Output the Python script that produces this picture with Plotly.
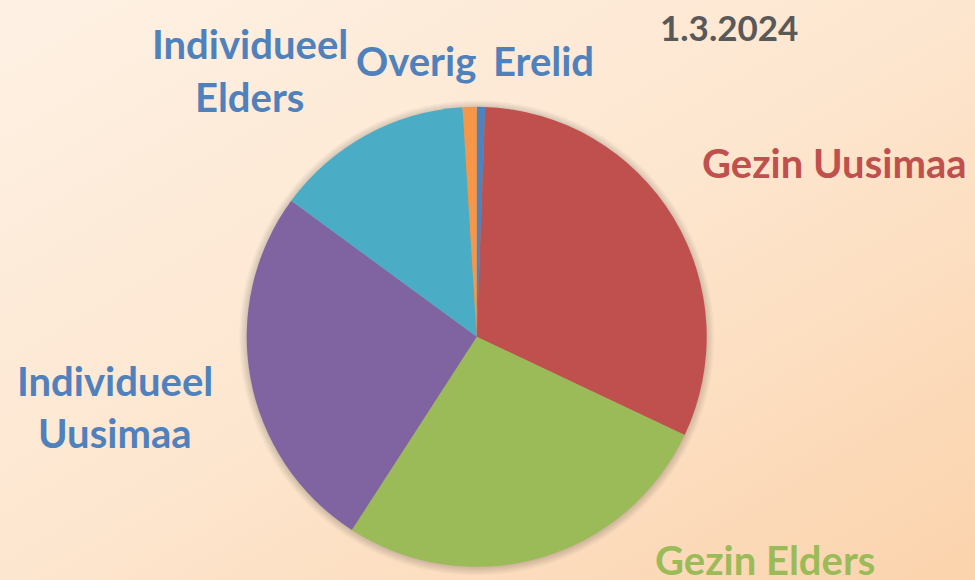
import base64
import plotly.graph_objects as go

categories = ["Erelid", "Gezin Uusimaa", "Gezin Elders", "Individueel Uusimaa", "Individueel Elders", "Overig"]
values = [3, 160, 138, 132, 71, 5]
slice_colors = ["#4F81BD", "#C0504D", "#9BBB59", "#8064A2", "#4BACC6", "#F79646"]
label_colors = ["#4F81BD", "#C0504D", "#9BBB59", "#4F81BD", "#4F81BD", "#4F81BD"]
title_text = "1.3.2024"

W, H = 975, 580
cx, cy, r = 476.7, 336.8, 230.0

svg = f'''<svg xmlns="http://www.w3.org/2000/svg" width="{W}" height="{H}">
<defs><linearGradient id="g" x1="0" y1="0" x2="1" y2="1">
<stop offset="0" stop-color="#FEF1E4"/><stop offset="0.5" stop-color="#FDE6CF"/><stop offset="1" stop-color="#FBD3AC"/>
</linearGradient>
<radialGradient id="s" cx="0.5" cy="0.5" r="0.5">
<stop offset="0.93" stop-color="#000" stop-opacity="0.35"/><stop offset="1" stop-color="#000" stop-opacity="0"/>
</radialGradient></defs>
<rect width="{W}" height="{H}" fill="url(#g)"/>
<circle cx="{cx}" cy="{cy+1}" r="{r+8}" fill="url(#s)"/>
</svg>'''
src = "data:image/svg+xml;base64," + base64.b64encode(svg.encode()).decode()

fig = go.Figure(go.Pie(
    labels=categories, values=values, sort=False, direction="clockwise", rotation=0,
    marker=dict(colors=slice_colors, line=dict(width=0)),
    textinfo="none", hoverinfo="label+value+percent", showlegend=False,
    domain=dict(x=[(cx - r) / W, (cx + r) / W], y=[(H - cy - r) / H, (H - cy + r) / H]),
))

fig.add_layout_image(dict(source=src, xref="paper", yref="paper", x=0, y=1, sizex=1, sizey=1,
                          xanchor="left", yanchor="top", sizing="stretch", layer="below"))

font_family = "Lato, 'Open Sans', sans-serif"
fs = 40

# label line placements (pixel centres of cap text)
placements = {
    "Erelid": [(543, 61)],
    "Gezin Uusimaa": [(834, 163)],
    "Gezin Elders": [(765, 560)],
    "Individueel Uusimaa": [(115, 381), (115, 433)],
    "Individueel Elders": [(250, 44), (250, 97)],
    "Overig": [(416, 61)],
}

for cat, col in zip(categories, label_colors):
    words = cat.split(" ")
    lines = [cat] if len(placements[cat]) == 1 else words
    for line, (px, py) in zip(lines, placements[cat]):
        fig.add_annotation(text=line, x=px / W, y=1 - py / H, xref="paper", yref="paper",
                           xanchor="center", yanchor="middle", showarrow=False,
                           font=dict(family=font_family, size=fs, color=col, weight="bold"))

fig.add_annotation(text=title_text, x=728.7 / W, y=1 - 27 / H, xref="paper", yref="paper",
                   xanchor="center", yanchor="middle", showarrow=False,
                   font=dict(family=font_family, size=35, color="#595959", weight="bold"))

fig.update_layout(width=W, height=H, margin=dict(l=0, r=0, t=0, b=0),
                  paper_bgcolor="#FDE6CF", plot_bgcolor="rgba(0,0,0,0)")

fig.write_html("out.html")
